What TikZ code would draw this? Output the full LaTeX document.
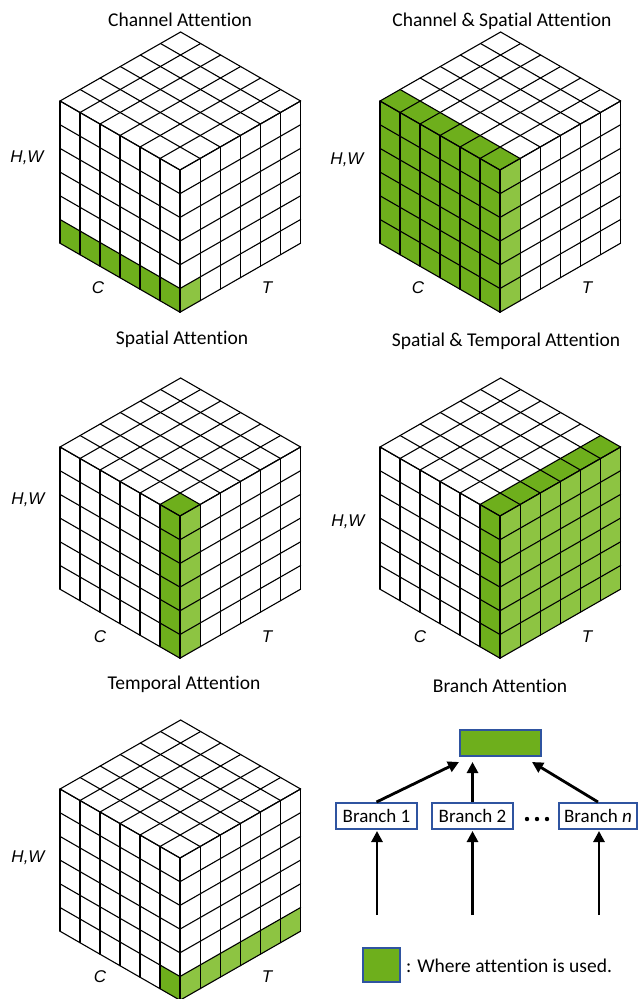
\documentclass[tikz,border=0pt]{standalone}
\usepackage{fontspec}
\setmainfont{Carlito}[Ligatures=NoCommon]
\newfontfamily\arialfont{Liberation Sans}
\usetikzlibrary{arrows.meta}
\definecolor{gdark}{RGB}{110,175,28}
\definecolor{glight}{RGB}{141,196,66}
\definecolor{bblue}{RGB}{47,84,160}
% left face cell (i from front edge, j from top)
\newcommand\lcell[3]{\fill[#3] ({-20*(#1)},{-11.5*(#1)+23.7*(#2)}) -- ({-20*(#1+1)},{-11.5*(#1+1)+23.7*(#2)}) -- ({-20*(#1+1)},{-11.5*(#1+1)+23.7*(#2+1)}) -- ({-20*(#1)},{-11.5*(#1)+23.7*(#2+1)}) -- cycle;}
% right face cell
\newcommand\rcell[3]{\fill[#3] ({20.1*(#1)},{-11.5*(#1)+23.7*(#2)}) -- ({20.1*(#1+1)},{-11.5*(#1+1)+23.7*(#2)}) -- ({20.1*(#1+1)},{-11.5*(#1+1)+23.7*(#2+1)}) -- ({20.1*(#1)},{-11.5*(#1)+23.7*(#2+1)}) -- cycle;}
% top face cell (i along C edge, j along T edge)
\newcommand\tcell[3]{\fill[#3] ({-20*(#1)+20.1*(#2)},{-11.5*(#1)-11.5*(#2)}) -- ({-20*(#1+1)+20.1*(#2)},{-11.5*(#1+1)-11.5*(#2)}) -- ({-20*(#1+1)+20.1*(#2+1)},{-11.5*(#1+1)-11.5*(#2+1)}) -- ({-20*(#1)+20.1*(#2+1)},{-11.5*(#1)-11.5*(#2+1)}) -- cycle;}
\newcommand\cubegrid{%
  \foreach \k in {0,...,6}{
    \draw[gridline] ({-20*\k},{-11.5*\k}) -- ({-20*\k},{-11.5*\k+142.2});
    \draw[gridline] ({20.1*\k},{-11.5*\k}) -- ({20.1*\k},{-11.5*\k+142.2});
    \draw[gridline] (0,{23.7*\k}) -- (-120,{-69+23.7*\k});
    \draw[gridline] (0,{23.7*\k}) -- (120.6,{-69+23.7*\k});
    \draw[gridline] ({-20*\k},{-11.5*\k}) -- ({-20*\k+120.6},{-11.5*\k-69});
    \draw[gridline] ({20.1*\k},{-11.5*\k}) -- ({20.1*\k-120},{-11.5*\k-69});
  }}
\begin{document}
\begin{tikzpicture}[x=1pt,y=-1pt,
  gridline/.style={line width=1.1pt,black,line cap=round,line join=round},
  ttl/.style={font=\fontsize{19.5}{23}\selectfont,anchor=base,inner sep=0pt},
  axl/.style={font=\arialfont\itshape\fontsize{17}{20}\selectfont,inner sep=0pt},
  attn/.style={fill=gdark,draw=bblue,line width=2pt,inner sep=0pt},
  bbox/.style={fill=white,draw=bblue,line width=2pt,inner sep=0pt,minimum height=26pt,minimum width=81pt,font=\fontsize{19}{23}\selectfont},
  arr/.style={line width=2.8pt,-{Triangle[length=11pt,width=11pt]}}]
\useasboundingbox (0,0) rectangle (640,999);
\fill[white] (0,0) rectangle (640,999);

% ---------- Cube 1: Channel Attention
\begin{scope}[shift={(180,170)}]
  \foreach \i in {0,...,5}{\lcell{\i}{5}{gdark}}
  \rcell{0}{5}{glight}
  \cubegrid
\end{scope}
% ---------- Cube 2: Channel & Spatial Attention
\begin{scope}[shift={(500,170)}]
  \foreach \i in {0,...,5}{\foreach \j in {0,...,5}{\lcell{\i}{\j}{gdark}}}
  \foreach \i in {0,...,5}{\tcell{\i}{0}{gdark}}
  \foreach \j in {0,...,5}{\rcell{0}{\j}{glight}}
  \cubegrid
\end{scope}
% ---------- Cube 3: Spatial Attention
\begin{scope}[shift={(180,516)}]
  \foreach \j in {0,...,5}{\lcell{0}{\j}{gdark}\rcell{0}{\j}{glight}}
  \tcell{0}{0}{gdark}
  \cubegrid
\end{scope}
% ---------- Cube 4: Spatial & Temporal Attention
\begin{scope}[shift={(500,516)}]
  \foreach \j in {0,...,5}{\lcell{0}{\j}{gdark}\tcell{0}{\j}{gdark}}
  \foreach \i in {0,...,5}{\foreach \j in {0,...,5}{\rcell{\i}{\j}{glight}}}
  \cubegrid
\end{scope}
% ---------- Cube 5: Temporal Attention
\begin{scope}[shift={(180,858)}]
  \foreach \i in {0,...,5}{\rcell{\i}{5}{glight}}
  \lcell{0}{5}{gdark}
  \cubegrid
\end{scope}

% ---------- titles
\node[ttl] (t1) at (180,26) {Channel Attention};
\node[ttl] (t2) at (502,26) {Channel \& Spatial Attention};
\node[ttl] (t3) at (182,344) {Spatial Attention};
\node[ttl] (t4) at (506,346) {Spatial \& Temporal Attention};
\node[ttl] (t5) at (184,689) {Temporal Attention};
\node[ttl] (t6) at (500,692) {Branch Attention};

% ---------- axis labels
\node[axl,anchor=base] (hw1) at (27,162) {H,W};
\node[axl,anchor=base] (hw2) at (347,164) {H,W};
\node[axl,anchor=base] (hw3) at (28,504) {H,W};
\node[axl,anchor=base] (hw4) at (348,526) {H,W};
\node[axl,anchor=base] (hw5) at (28,862) {H,W};
\node[axl] (c1) at (98,288) {C};
\node[axl] (T1) at (267,288) {T};
\node[axl] (c2) at (418,288) {C};
\node[axl] (T2) at (587,288) {T};
\node[axl] (c3) at (100,637) {C};
\node[axl] (T3) at (267,637) {T};
\node[axl] (c4) at (420,637) {C};
\node[axl] (T4) at (587,637) {T};
\node[axl] (c5) at (100,977) {C};
\node[axl] (T5) at (267,977) {T};

% ---------- branch attention
\node[attn,minimum width=81pt,minimum height=26pt] (top) at (500.5,743) {};
\node[bbox] (b1) at (376.5,816) {Branch 1};
\node[bbox] (b2) at (472.5,816) {Branch 2};
\node[bbox,minimum width=78pt] (bn) at (598,816) {Branch \textit{n}};
\foreach \x in {527,537,547}{\fill (\x,819) circle (2.2pt);}
\coordinate (tipL) at (459,762);
\coordinate (tipM) at (472.5,762);
\coordinate (tipR) at (532,762);
\coordinate (in1) at (377,915);
\coordinate (in2) at (472.5,915);
\coordinate (inn) at (599,915);
\draw[arr] (b1.north) -- (tipL);
\draw[arr] (b2.north) -- (tipM);
\draw[arr] (bn.north) -- (tipR);
\draw[arr,shorten >=1pt] (in1) -- (in1 |- b1.south);
\draw[arr,shorten >=1pt] (in2) -- (b2.south);
\draw[arr,shorten >=1pt] (inn) -- (inn |- bn.south);

% ---------- legend
\node[attn,minimum width=37pt,minimum height=34pt] (leg) at (381.5,965) {};
\node[anchor=base west,inner sep=0pt,font=\fontsize{19.5}{23}\selectfont] (legt) at (406,972) {: Where attention is used.};
\end{tikzpicture}
\end{document}
